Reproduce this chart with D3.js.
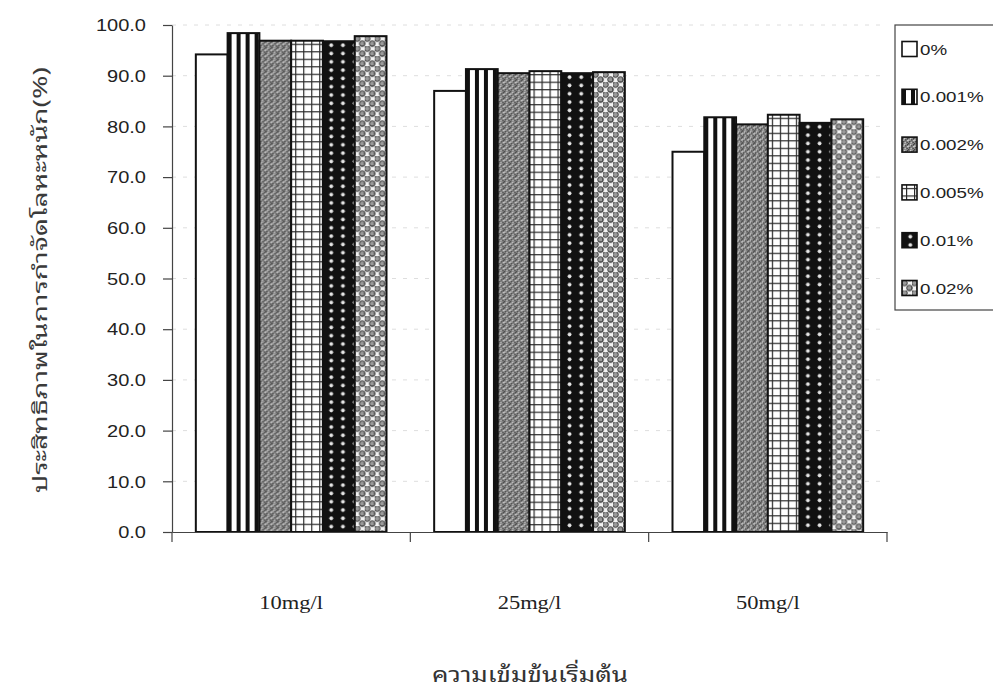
<!DOCTYPE html>
<html>
<head>
<meta charset="utf-8">
<script src="https://cdn.jsdelivr.net/npm/d3@7"></script>
<style>
  html, body { margin: 0; padding: 0; background: #fff; }
  svg { display: block; }
</style>
</head>
<body>
<svg id="chart" width="993" height="692"></svg>
<script>
// Initial metal concentration groups
const categories = ["10mg/l", "25mg/l", "50mg/l"];
// Additive dose series
const seriesNames = ["0%", "0.001%", "0.002%", "0.005%", "0.01%", "0.02%"];
// Removal efficiency (%) per series, one value per category
const dose0 = [94.2, 87.0, 75.0];
const dose0001 = [98.4, 91.3, 81.8];
const dose0002 = [96.9, 90.5, 80.4];
const dose0005 = [96.9, 90.9, 82.3];
const dose001 = [96.8, 90.5, 80.7];
const dose002 = [97.8, 90.7, 81.4];
const yTicks = [0, 10, 20, 30, 40, 50, 60, 70, 80, 90, 100];
const yTitle = "ประสิทธิภาพในการกำจัดโลหะหนัก(%)";
const xTitle = "ความเข้มข้นเริ่มต้น";

const seriesValues = [dose0, dose0001, dose0002, dose0005, dose001, dose002];

const SX = 1.25; // horizontal stretch applied to text glyphs
const latin = "'Liberation Sans', Arial, sans-serif";
const serif = "'Liberation Serif', 'Times New Roman', serif";
const thai = "'Noto Sans Thai Looped', 'Noto Serif Thai', Norasi, Kinnari, Loma, Garuda, 'Noto Sans Thai', sans-serif";
const ink = "#222";

const svg = d3.select("#chart");
svg.append("rect").attr("width", 993).attr("height", 692).attr("fill", "#fff");
const defs = svg.append("defs");

const plot = { left: 172, right: 887, top: 25, bottom: 532 };

const x0 = d3.scaleBand().domain(categories).range([plot.left, plot.right]).paddingInner(0).paddingOuter(0);
const x1 = d3.scaleBand().domain(seriesNames).range([0, x0.bandwidth()]).paddingInner(0).paddingOuter(0.75);
const y = d3.scaleLinear().domain([0, 100]).range([plot.bottom, plot.top]);

// Fill patterns, one builder per series; ox/oy anchor the tile to the mark
function buildPattern(id, si, ox, oy) {
  const p = defs.append("pattern").attr("id", id).attr("patternUnits", "userSpaceOnUse");
  if (si === 0) {
    p.attr("x", ox).attr("y", oy).attr("width", 10).attr("height", 10);
    p.append("rect").attr("width", 10).attr("height", 10).attr("fill", "#fff");
  } else if (si === 1) {
    p.attr("x", ox).attr("y", oy).attr("width", 9).attr("height", 10);
    p.append("rect").attr("width", 9).attr("height", 10).attr("fill", "#fff");
    p.append("rect").attr("width", 4).attr("height", 10).attr("fill", "#111");
  } else if (si === 2) {
    p.attr("x", ox).attr("y", oy).attr("width", 6).attr("height", 6);
    p.append("rect").attr("width", 6).attr("height", 6).attr("fill", "#8a8a8a");
    [[0, 0], [3, 2], [1, 4], [4.5, 4.5], [5, 1]].forEach(([a, b]) =>
      p.append("rect").attr("x", a).attr("y", b).attr("width", 1.4).attr("height", 1.4).attr("fill", "#3c3c3c"));
    [[2, 1], [5, 3], [0, 2.5], [2.5, 5]].forEach(([a, b]) =>
      p.append("rect").attr("x", a).attr("y", b).attr("width", 1.3).attr("height", 1.3).attr("fill", "#d2d2d2"));
  } else if (si === 3) {
    p.attr("x", ox + 4).attr("y", oy + 3).attr("width", 8).attr("height", 7.5);
    p.append("rect").attr("width", 8).attr("height", 7.5).attr("fill", "#fff");
    p.append("rect").attr("width", 1.2).attr("height", 7.5).attr("fill", "#2a2a2a");
    p.append("rect").attr("width", 8).attr("height", 1.2).attr("fill", "#2a2a2a");
  } else if (si === 4) {
    p.attr("x", ox).attr("y", oy).attr("width", 11.7).attr("height", 8.3);
    p.append("rect").attr("width", 11.7).attr("height", 8.3).attr("fill", "#111");
    p.append("circle").attr("cx", 8.3).attr("cy", 4).attr("r", 1.9).attr("fill", "#e6e6e6");
  } else {
    p.attr("x", ox).attr("y", oy).attr("width", 10).attr("height", 10);
    p.append("rect").attr("width", 10).attr("height", 10).attr("fill", "#f2f2f2");
    [[2.5, 2.5], [7.5, 7.5], [7.5, -2.5], [-2.5, 7.5], [12.5, 7.5], [7.5, 12.5]].forEach(([a, b]) =>
      p.append("circle").attr("cx", a).attr("cy", b).attr("r", 2.8)
        .attr("fill", "#9a9a9a").attr("stroke", "#333").attr("stroke-width", 1));
  }
  return `url(#${id})`;
}

// Faint horizontal gridlines
svg.append("g").selectAll("line")
  .data(yTicks.filter(d => d > 0))
  .join("line")
  .attr("x1", plot.left).attr("x2", plot.right)
  .attr("y1", d => y(d)).attr("y2", d => y(d))
  .attr("stroke", "#dedede").attr("stroke-width", 1).attr("stroke-dasharray", "4,7");

// Bars
const bars = [];
categories.forEach((cat, ci) => {
  seriesNames.forEach((name, si) => {
    bars.push({ cat, ci, name, si, value: seriesValues[si][ci] });
  });
});
svg.append("g").selectAll("rect")
  .data(bars)
  .join("rect")
  .attr("x", d => x0(d.cat) + x1(d.name))
  .attr("y", d => y(d.value))
  .attr("width", x1.bandwidth())
  .attr("height", d => y(0) - y(d.value))
  .attr("fill", d => buildPattern(`bar-${d.si}-${d.ci}`, d.si, x0(d.cat) + x1(d.name), y(d.value)))
  .attr("stroke", "#111").attr("stroke-width", 2);

// Y axis
const yAxis = svg.append("g")
  .attr("transform", `translate(${plot.left},0)`)
  .call(d3.axisLeft(y).tickValues(yTicks).tickSize(9).tickSizeOuter(0).tickFormat(d => d.toFixed(1)));
yAxis.select(".domain").attr("stroke", "#444").attr("stroke-width", 1.2);
yAxis.selectAll(".tick line").attr("stroke", "#444").attr("stroke-width", 1.2);
yAxis.selectAll(".tick text")
  .attr("x", null).attr("dy", "0.36em")
  .attr("transform", `translate(-26,0) scale(${SX},1)`)
  .attr("text-anchor", "end")
  .attr("fill", ink)
  .style("font-family", latin).style("font-size", "16px");

// X axis: baseline with ticks at category boundaries
const xAxis = svg.append("g").attr("transform", `translate(0,${plot.bottom})`);
xAxis.call(d3.axisBottom(x0).tickSize(0).tickSizeOuter(0).tickFormat(""));
xAxis.select(".domain").attr("stroke", "#444").attr("stroke-width", 1.2);
const bounds = categories.map(c => x0(c)).concat([x0.range()[1]]);
xAxis.selectAll(".bound").data(bounds).join("line").attr("class", "bound")
  .attr("x1", d => d).attr("x2", d => d).attr("y1", 0).attr("y2", 10)
  .attr("stroke", "#444").attr("stroke-width", 1.2);
svg.append("g").selectAll("text")
  .data(categories)
  .join("text")
  .attr("transform", d => `translate(${x0(d) + x0.bandwidth() / 2},609) scale(${SX},1)`)
  .attr("text-anchor", "middle")
  .attr("fill", ink)
  .style("font-family", serif).style("font-size", "18px")
  .text(d => d);

// Axis titles
svg.append("text")
  .attr("transform", "translate(47,280) rotate(-90)")
  .attr("text-anchor", "middle")
  .attr("textLength", 426).attr("lengthAdjust", "spacingAndGlyphs")
  .attr("fill", "#3a3a3a")
  .style("font-family", thai).style("font-size", "19px")
  .text(yTitle);
svg.append("text")
  .attr("x", 530).attr("y", 682)
  .attr("text-anchor", "middle")
  .attr("textLength", 196).attr("lengthAdjust", "spacingAndGlyphs")
  .attr("fill", "#333")
  .style("font-family", thai).style("font-size", "21px")
  .text(xTitle);

// Legend
const legend = svg.append("g");
legend.append("rect")
  .attr("x", 895).attr("y", 25).attr("width", 120).attr("height", 285)
  .attr("fill", "#fff").attr("stroke", "#444").attr("stroke-width", 1.2);
const legendY = d3.scalePoint().domain(seriesNames).range([49, 288]);
seriesNames.forEach((name, si) => {
  const cy = legendY(name);
  const sx = 902, sy = cy - 7.5;
  legend.append("rect")
    .attr("x", sx).attr("y", sy).attr("width", 15).attr("height", 15)
    .attr("fill", buildPattern(`leg-${si}`, si, sx, sy))
    .attr("stroke", "#111").attr("stroke-width", 1.6);
  legend.append("text")
    .attr("transform", `translate(920,${cy + 5.5}) scale(${SX},1)`)
    .attr("fill", ink)
    .style("font-family", latin).style("font-size", "15px")
    .text(name);
});
</script>
</body>
</html>
